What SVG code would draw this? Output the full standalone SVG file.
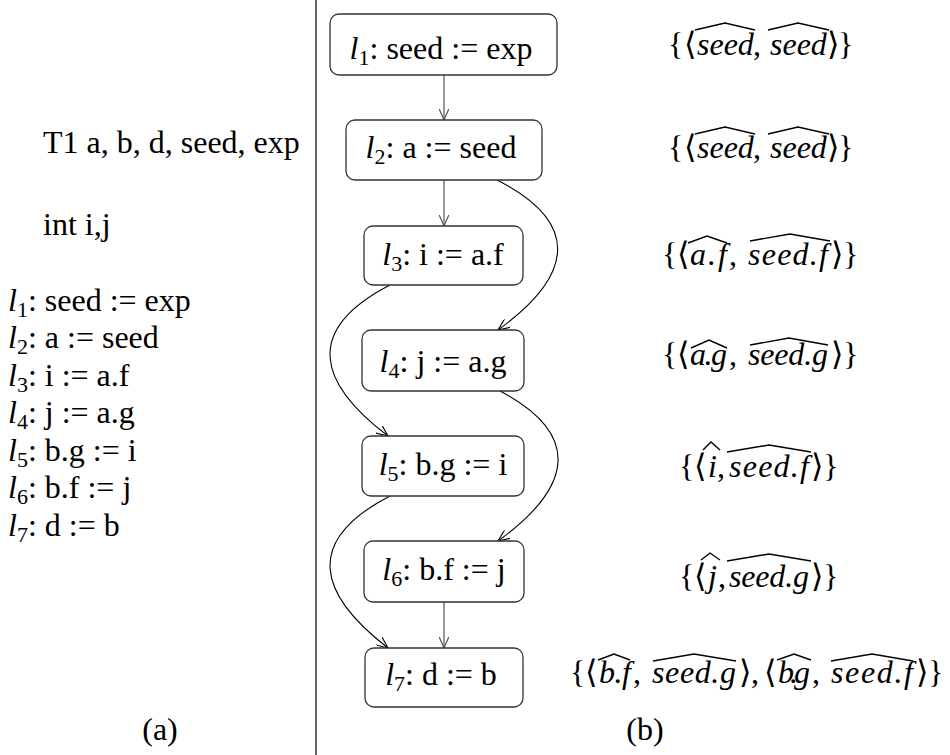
<svg xmlns="http://www.w3.org/2000/svg" width="950" height="755" viewBox="0 0 950 755">
<style>
text{font-family:"Liberation Serif","DejaVu Serif",serif;font-size:32px;fill:#000}
.mi{font-style:italic}
.sub{font-size:22px}
.node rect{fill:#fff;stroke:#333;stroke-width:1.3}
.straight{stroke:#555;stroke-width:1.2;fill:none}
.curve{stroke:#000;stroke-width:1.1;fill:none}
.hat{fill:none;stroke:#000;stroke-width:1.4;stroke-linejoin:miter}
</style>
<defs>
<marker id="ag" viewBox="0 0 12 10" refX="11.5" refY="5" markerWidth="12" markerHeight="10" markerUnits="userSpaceOnUse" orient="auto"><path d="M0,0 L11.5,5 L0,10" fill="none" stroke="#555" stroke-width="1.2"/></marker>
<marker id="ab" viewBox="0 0 12 10" refX="11.5" refY="5" markerWidth="12" markerHeight="10" markerUnits="userSpaceOnUse" orient="auto"><path d="M0,0 L11.5,5 L0,10" fill="none" stroke="#000" stroke-width="1.1"/></marker>
</defs>

<line x1="316" y1="0" x2="316" y2="755" stroke="#000" stroke-width="1.2"/>

<g id="code">
<text x="43" y="153">T1 a, b, d, seed, exp</text>
<text x="43" y="235">int i,j</text>
<text x="8" y="311"><tspan class="mi">l</tspan><tspan class="sub" dy="6">1</tspan><tspan dy="-6">:  seed := exp</tspan></text>
<text x="8" y="348"><tspan class="mi">l</tspan><tspan class="sub" dy="6">2</tspan><tspan dy="-6">:  a := seed</tspan></text>
<text x="8" y="386"><tspan class="mi">l</tspan><tspan class="sub" dy="6">3</tspan><tspan dy="-6">:  i := a.f</tspan></text>
<text x="8" y="423"><tspan class="mi">l</tspan><tspan class="sub" dy="6">4</tspan><tspan dy="-6">:  j := a.g</tspan></text>
<text x="8" y="461"><tspan class="mi">l</tspan><tspan class="sub" dy="6">5</tspan><tspan dy="-6">:  b.g := i</tspan></text>
<text x="8" y="498"><tspan class="mi">l</tspan><tspan class="sub" dy="6">6</tspan><tspan dy="-6">:  b.f := j</tspan></text>
<text x="8" y="536"><tspan class="mi">l</tspan><tspan class="sub" dy="6">7</tspan><tspan dy="-6">:  d := b</tspan></text>
</g>

<g id="captions">
<text x="160" y="740" text-anchor="middle">(a)</text>
<text x="645" y="740" text-anchor="middle">(b)</text>
</g>

<g id="edges">
<line class="straight" x1="444" y1="75" x2="444" y2="120" marker-end="url(#ag)"/>
<line class="straight" x1="444" y1="180" x2="444" y2="226" marker-end="url(#ag)"/>
<line class="straight" x1="444" y1="602" x2="444" y2="648" marker-end="url(#ag)"/>
<path class="curve" d="M497,180 C585,225 570,278 498,330" marker-end="url(#ab)"/>
<path class="curve" d="M390,285 C303,330 318,383 388,436" marker-end="url(#ab)"/>
<path class="curve" d="M500,391 C585,436 570,489 498,541" marker-end="url(#ab)"/>
<path class="curve" d="M390,496 C303,541 318,594 388,648" marker-end="url(#ab)"/>
</g>

<g id="n1" class="node"><rect x="330" y="14" width="227" height="61" rx="9"/>
<text x="441" y="59" text-anchor="middle"><tspan class="mi">l</tspan><tspan class="sub" dy="6">1</tspan><tspan dy="-6">:  seed := exp</tspan></text></g>
<g id="n2" class="node"><rect x="346" y="120" width="196" height="60" rx="9"/>
<text x="441" y="158" text-anchor="middle"><tspan class="mi">l</tspan><tspan class="sub" dy="6">2</tspan><tspan dy="-6">:  a := seed</tspan></text></g>
<g id="n3" class="node"><rect x="364" y="226" width="159" height="59" rx="9"/>
<text x="443" y="265" text-anchor="middle"><tspan class="mi">l</tspan><tspan class="sub" dy="6">3</tspan><tspan dy="-6">:  i := a.f</tspan></text></g>
<g id="n4" class="node"><rect x="362" y="330" width="162" height="61" rx="9"/>
<text x="443" y="372" text-anchor="middle"><tspan class="mi">l</tspan><tspan class="sub" dy="6">4</tspan><tspan dy="-6">:  j := a.g</tspan></text></g>
<g id="n5" class="node"><rect x="362" y="436" width="162" height="60" rx="9"/>
<text x="443" y="475" text-anchor="middle"><tspan class="mi">l</tspan><tspan class="sub" dy="6">5</tspan><tspan dy="-6">:  b.g := i</tspan></text></g>
<g id="n6" class="node"><rect x="364" y="541" width="160" height="61" rx="9"/>
<text x="444" y="580" text-anchor="middle"><tspan class="mi">l</tspan><tspan class="sub" dy="6">6</tspan><tspan dy="-6">:  b.f := j</tspan></text></g>
<g id="n7" class="node"><rect x="365" y="648" width="158" height="59" rx="9"/>
<text x="441" y="685" text-anchor="middle"><tspan class="mi">l</tspan><tspan class="sub" dy="6">7</tspan><tspan dy="-6">:  d := b</tspan></text></g>

<g id="s1">
<text x="668" y="55">{</text><text x="684" y="55">⟨</text>
<text class="mi" x="697" y="55">seed</text><text x="753" y="55">,</text>
<text class="mi" x="770" y="55">seed</text><text x="827" y="55">⟩</text><text x="838" y="55">}</text>
<polyline class="hat" points="695,30 725,23 755,30"/><polyline class="hat" points="768,30 798,23 829,30"/>
</g>
<g id="s2">
<text x="668" y="158">{</text><text x="684" y="158">⟨</text>
<text class="mi" x="697" y="158">seed</text><text x="753" y="158">,</text>
<text class="mi" x="770" y="158">seed</text><text x="827" y="158">⟩</text><text x="838" y="158">}</text>
<polyline class="hat" points="695,134 725,127 755,134"/><polyline class="hat" points="768,134 798,127 829,134"/>
</g>
<g id="s3">
<text x="662" y="265">{</text><text x="677" y="265">⟨</text>
<text class="mi" x="690" y="265" textLength="37">a.f</text><text x="729" y="265">,</text>
<text class="mi" x="748" y="265" textLength="80">seed.f</text><text x="831" y="265">⟩</text><text x="843" y="265">}</text>
<polyline class="hat" points="688,243 707,236 727,243"/><polyline class="hat" points="750,241 790,234 830,241"/>
</g>
<g id="s4">
<text x="662" y="365">{</text><text x="677" y="365">⟨</text>
<text class="mi" x="690" y="365" textLength="37">a.g</text><text x="729" y="365">,</text>
<text class="mi" x="748" y="365" textLength="80">seed.g</text><text x="831" y="365">⟩</text><text x="843" y="365">}</text>
<polyline class="hat" points="691,348 709,340 727,348"/><polyline class="hat" points="750,345 789,338 828,345"/>
</g>
<g id="s5">
<text x="679" y="477">{</text><text x="694" y="477">⟨</text>
<text class="mi" x="708" y="477">i</text><text x="717" y="477">,</text>
<text class="mi" x="729" y="477" textLength="80">seed.f</text><text x="811" y="477">⟩</text><text x="823" y="477">}</text>
<polyline class="hat" points="703,450 711,442 720,450"/><polyline class="hat" points="727,452 769,445 811,452"/>
</g>
<g id="s6">
<text x="679" y="587">{</text><text x="694" y="587">⟨</text>
<text class="mi" x="708" y="587">j</text><text x="718" y="587">,</text>
<text class="mi" x="729" y="587" textLength="80">seed.g</text><text x="811" y="587">⟩</text><text x="823" y="587">}</text>
<polyline class="hat" points="701,560 710,553 720,560"/><polyline class="hat" points="727,561 769,554 811,561"/>
</g>
<g id="s7">
<text x="570" y="683">{</text><text x="585" y="683">⟨</text>
<text class="mi" x="599" y="683" textLength="32">b.f</text><text x="633" y="683">,</text>
<text class="mi" x="652" y="683" textLength="84">seed.g</text><text x="739" y="683">⟩</text><text x="751" y="683">,</text>
<text x="764" y="683">⟨</text>
<text class="mi" x="778" y="683" textLength="32">b.g</text><text x="812" y="683">,</text>
<text class="mi" x="831" y="683" textLength="82">seed.f</text><text x="916" y="683">⟩</text><text x="928" y="683">}</text>
<polyline class="hat" points="598,660 614,654 630,660"/><polyline class="hat" points="653,661 694,654 736,661"/>
<polyline class="hat" points="777,660 794,654 811,660"/><polyline class="hat" points="831,661 872,654 913,661"/>
</g>
</svg>
